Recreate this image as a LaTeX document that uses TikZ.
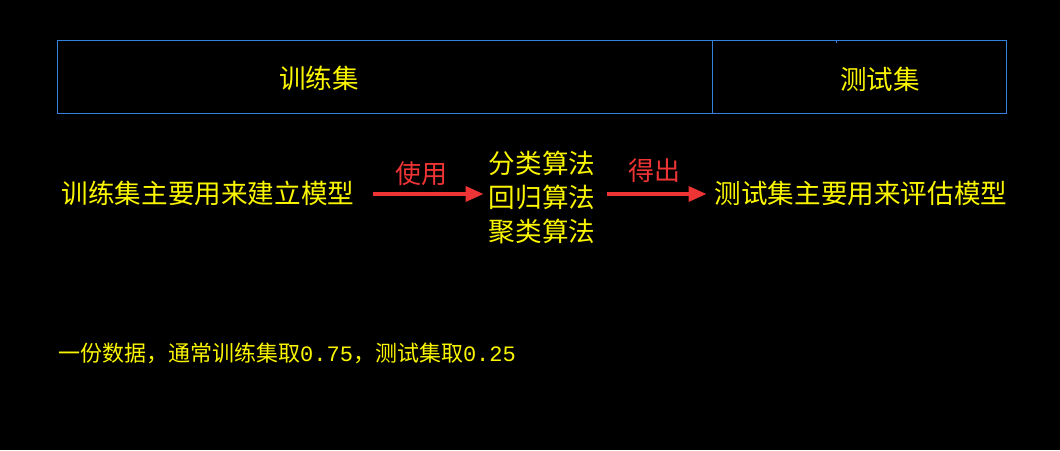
\documentclass[tikz,border=0pt]{standalone}
\usepackage{fontspec}
\setmainfont{Noto Sans CJK SC}
\newfontfamily\digitfont{Liberation Mono}
\usepackage{tikz}
\usetikzlibrary{arrows.meta, positioning}
\definecolor{boxblue}{RGB}{52, 128, 222}
\definecolor{txtyellow}{RGB}{250, 245, 0}
\definecolor{arrred}{RGB}{238, 52, 52}

\begin{document}
\begin{tikzpicture}[
    x=1pt, y=-1pt,
    every node/.style={inner sep=0pt, text=txtyellow},
    bigtext/.style={font=\fontsize{26.6}{34}\selectfont, align=center},
    smalltext/.style={font=\fontsize{22}{24}\selectfont, anchor=west},
    redlabel/.style={font=\fontsize{26}{30}\selectfont, text=arrred},
    splitbox/.style={draw=boxblue, line width=1pt},
    redarrow/.style={draw=arrred, line width=3.5pt, -{Triangle[length=18pt, width=15pt]}}
]
    \fill[black] (0,0) rectangle (1060,450);

    \draw[splitbox] (57,40) rectangle (712,113);
    \draw[splitbox] (712,40) rectangle (1006,113);
    \draw[boxblue, line width=1pt] (836,40) -- (836,43);
    \node[bigtext] (trainhead) at (319,78) {训练集};
    \node[bigtext] (testhead) at (880,79) {测试集};

    \node[bigtext] (train) at (208,193) {训练集主要用来建立模型};
    \node[bigtext] (algo) at (542,197) {分类算法\\回归算法\\聚类算法};
    \node[bigtext] (test) at (861,193) {测试集主要用来评估模型};

    \draw[redarrow, shorten <=18pt, shorten >=5pt] (train.east |- 0,194) -- (algo.west |- 0,194)
        node[redlabel, midway, above=7pt] (use) {使用};
    \draw[redarrow, shorten <=12pt, shorten >=8pt] (algo.east |- 0,194) -- (test.west |- 0,194)
        node[redlabel, midway, above=10pt] (get) {得出};

    \node[smalltext] (note) at (58,353) {一份数据，通常训练集取{\digitfont 0.75}，测试集取{\digitfont 0.25}};
\end{tikzpicture}
\end{document}
